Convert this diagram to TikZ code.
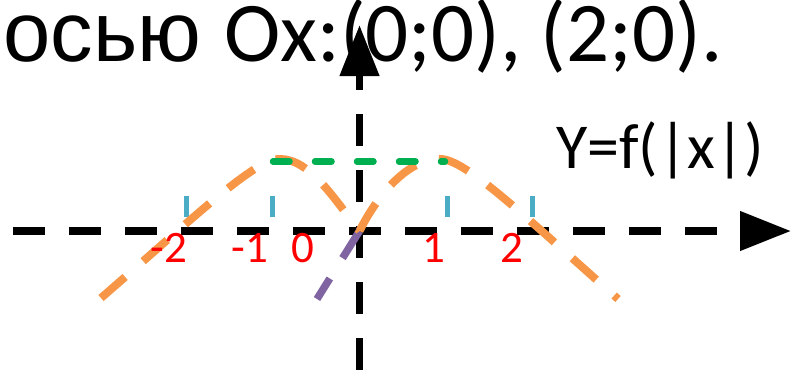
\documentclass[tikz,border=0pt]{standalone}
\usepackage{fontspec}
\setmainfont{Carlito}
\newfontfamily\arialf{Liberation Sans}
\usetikzlibrary{arrows.meta}
\definecolor{orng}{HTML}{F79646}
\definecolor{grn}{HTML}{00B050}
\definecolor{cyn}{HTML}{4BACC6}
\definecolor{prp}{HTML}{8064A2}
\definecolor{rd}{HTML}{FF0000}
\begin{document}
\begin{tikzpicture}[x=1pt,y=-1pt,
  axisline/.style={line width=7.5pt, dash pattern=on 32pt off 24pt,
    -{Triangle[length=51pt,width=38pt]}},
  orangeline/.style={orng, line width=8pt, dash pattern=on 32pt off 24pt},
  purpleline/.style={prp, line width=7.5pt, dash pattern=on 32pt off 24pt},
  greenline/.style={grn, line width=6.5pt, line cap=round, dash pattern=on 16.5pt off 25.5pt},
  tickmark/.style={cyn, line width=5pt},
  lbl/.style={anchor=base, text=rd, inner sep=0pt, font=\fontsize{45}{54}\selectfont},
]
\useasboundingbox (0,0) rectangle (792,370);
% axes
\coordinate (xs) at (12.7,231);
\coordinate (xe) at (791,231);
\coordinate (ys) at (359.5,370);
\coordinate (ye) at (359.5,25);
\coordinate (O) at (359.5,231);
\draw[axisline] (xs) -- (xe);
\draw[axisline] (ys) -- (ye);
% cyan ticks
\foreach \t/\xx in {m2/186, m1/272.5, p1/447, p2/532.5}{
  \coordinate (t\t a) at (\xx,196);
  \coordinate (t\t b) at (\xx,217);
  \draw[tickmark] (t\t a) -- (t\t b);
}
% purple line
\coordinate (pe) at (317,299);
\draw[purpleline] (O) -- (pe);
% orange curve y = f(|x|)
\coordinate (ls) at (101,298);
\coordinate (lp) at (280,159);
\coordinate (rp) at (440,159);
\coordinate (re) at (618,299);
\draw[orangeline] (ls) .. controls (200,212) and (255,159) .. (lp)
   .. controls (310,159) and (335,200) .. (O);
\draw[orangeline] (O) .. controls (375,200) and (405,159) .. (rp)
   .. controls (465,159) and (520,212) .. (re);
% green dashed level
\coordinate (gs) at (273,161.5);
\coordinate (ge) at (445,161.5);
\draw[greenline] (gs) -- (ge);
% labels
\node[lbl] (lm2) at (169,262) {-2};
\node[lbl] (lm1) at (250,262) {-1};
\node[lbl] (l0) at (303,262) {0};
\node[lbl] (l1) at (434,262) {1};
\node[lbl] (l2) at (512,262) {2};
% texts
\node[anchor=base east, inner sep=0pt, font=\fontsize{85}{100}\selectfont] (title) at (723,61) {{\arialf осью }Ox:(0;0), (2;0).};
\node[anchor=base west, inner sep=0pt, font=\fontsize{64}{76}\selectfont] (fn) at (556,168) {Y=f(|x|)};
\end{tikzpicture}
\end{document}
